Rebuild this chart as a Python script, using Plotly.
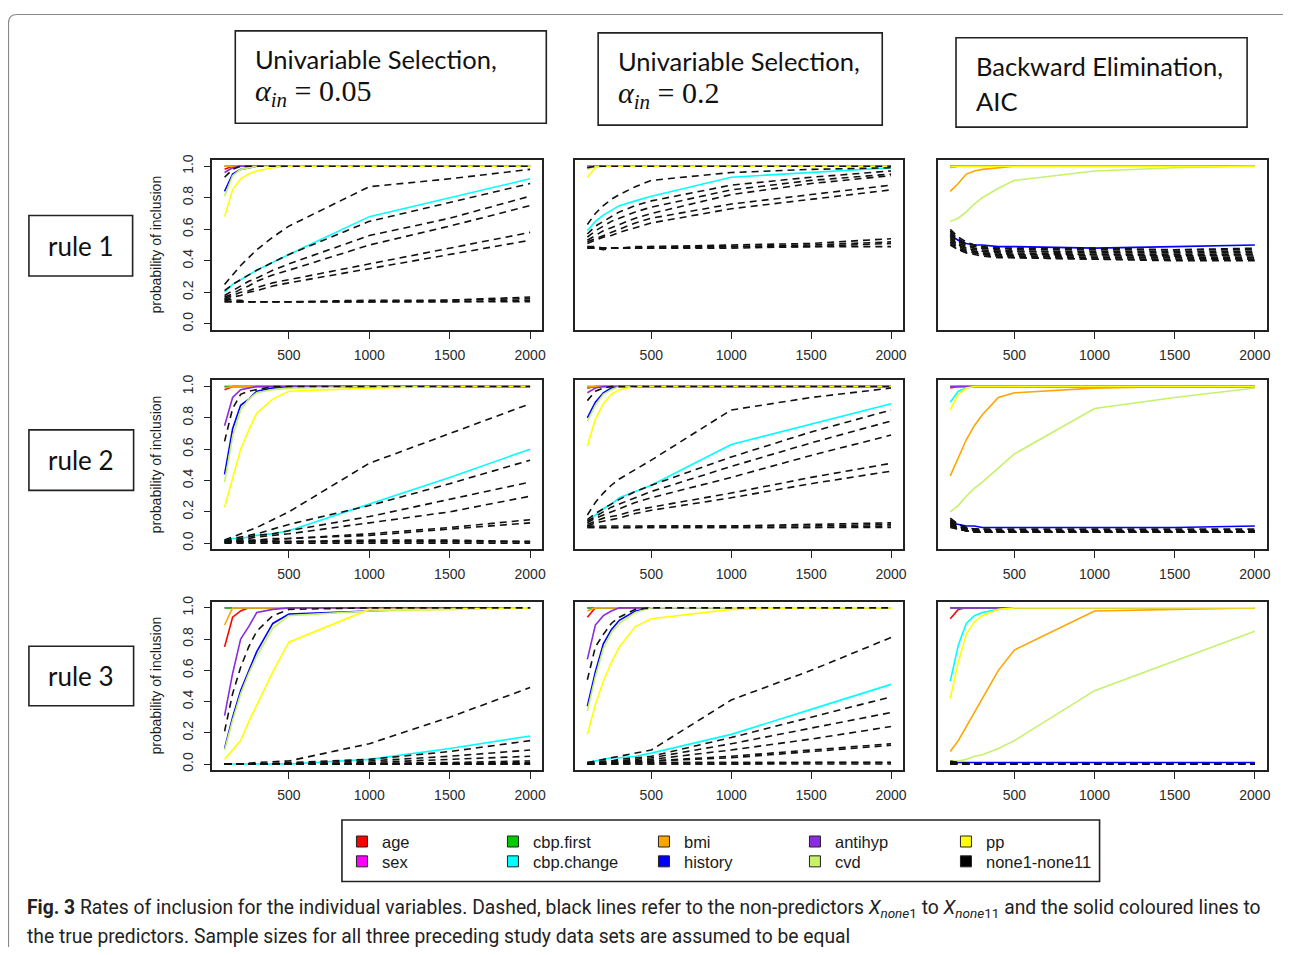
import plotly.graph_objects as go

# ---------------- data ----------------
SAMPLE_SIZES = [100, 150, 200, 250, 300, 400, 500, 1000, 1500, 2000]
X_TICKS = [500, 1000, 1500, 2000]
Y_TICKS = [0.0, 0.2, 0.4, 0.6, 0.8, 1.0]
Y_TICK_TEXT = ["0.0", "0.2", "0.4", "0.6", "0.8", "1.0"]

PREDICTORS = ["age", "sex", "cbp.first", "cbp.change", "bmi", "history", "antihyp", "cvd", "pp"]
PRED_COLORS = ["#FF0000", "#FF00FF", "#00CC00", "#00FFFF", "#FFA500", "#0000FF", "#8B2BE2", "#C5F26A", "#FFFF00"]
NONE_LABEL = "none1-none11"
NONE_COLOR = "#111111"

METHOD_LINE1 = ["Univariable Selection,", "Univariable Selection,", "Backward Elimination,"]
METHOD_LINE2 = ["<i>α</i><sub><i>in</i></sub> = 0.05", "<i>α</i><sub><i>in</i></sub> = 0.2", "AIC"]
RULES = ["rule 1", "rule 2", "rule 3"]
Y_TITLE = "probability of inclusion"

# predictor rows in PREDICTORS order; non-predictor rows none1..none11
R1_US05_PRED = [
    [0.98, 1, 1, 1, 1, 1, 1, 1, 1, 1],
    [1, 1, 1, 1, 1, 1, 1, 1, 1, 1],
    [1, 1, 1, 1, 1, 1, 1, 1, 1, 1],
    [0.20, 0.25, 0.28, 0.31, 0.34, 0.39, 0.44, 0.68, 0.80, 0.92],
    [1, 1, 1, 1, 1, 1, 1, 1, 1, 1],
    [0.84, 0.95, 0.98, 0.99, 1, 1, 1, 1, 1, 1],
    [0.96, 0.99, 1, 1, 1, 1, 1, 1, 1, 1],
    [0.81, 0.94, 0.98, 0.99, 1, 1, 1, 1, 1, 1],
    [0.68, 0.85, 0.92, 0.95, 0.97, 0.99, 1, 1, 1, 1],
]
R1_US05_NONE = [
    [0.93, 0.98, 1, 1, 1, 1, 1, 1, 1, 1],
    [0.25, 0.31, 0.37, 0.42, 0.47, 0.55, 0.62, 0.87, 0.92, 0.98],
    [0.21, 0.25, 0.28, 0.31, 0.34, 0.39, 0.44, 0.65, 0.77, 0.89],
    [0.18, 0.21, 0.24, 0.27, 0.29, 0.34, 0.38, 0.56, 0.67, 0.81],
    [0.17, 0.19, 0.22, 0.24, 0.27, 0.31, 0.34, 0.50, 0.62, 0.75],
    [0.16, 0.18, 0.20, 0.21, 0.23, 0.26, 0.28, 0.38, 0.48, 0.58],
    [0.15, 0.17, 0.18, 0.20, 0.21, 0.24, 0.26, 0.35, 0.44, 0.53],
    [0.15, 0.14, 0.14, 0.14, 0.14, 0.14, 0.14, 0.14, 0.15, 0.17],
    [0.14, 0.14, 0.14, 0.14, 0.14, 0.14, 0.14, 0.15, 0.15, 0.16],
    [0.16, 0.15, 0.15, 0.14, 0.14, 0.14, 0.14, 0.14, 0.14, 0.15],
    [0.14, 0.14, 0.14, 0.14, 0.14, 0.14, 0.14, 0.14, 0.14, 0.14],
]

R1_US20_PRED = [
    [1, 1, 1, 1, 1, 1, 1, 1, 1, 1],
    [1, 1, 1, 1, 1, 1, 1, 1, 1, 1],
    [1, 1, 1, 1, 1, 1, 1, 1, 1, 1],
    [0.59, 0.65, 0.69, 0.72, 0.75, 0.78, 0.81, 0.93, 0.96, 0.99],
    [1, 1, 1, 1, 1, 1, 1, 1, 1, 1],
    [0.99, 1, 1, 1, 1, 1, 1, 1, 1, 1],
    [0.99, 1, 1, 1, 1, 1, 1, 1, 1, 1],
    [0.98, 1, 1, 1, 1, 1, 1, 1, 1, 1],
    [0.93, 0.99, 1, 1, 1, 1, 1, 1, 1, 1],
]
R1_US20_NONE = [
    [0.99, 1, 1, 1, 1, 1, 1, 1, 1, 1],
    [0.63, 0.70, 0.75, 0.79, 0.82, 0.87, 0.91, 0.96, 0.98, 0.99],
    [0.57, 0.62, 0.65, 0.68, 0.71, 0.75, 0.78, 0.88, 0.93, 0.97],
    [0.55, 0.59, 0.62, 0.65, 0.67, 0.71, 0.74, 0.85, 0.91, 0.95],
    [0.53, 0.56, 0.59, 0.61, 0.63, 0.67, 0.70, 0.82, 0.89, 0.94],
    [0.52, 0.54, 0.56, 0.58, 0.60, 0.64, 0.67, 0.76, 0.82, 0.88],
    [0.51, 0.53, 0.55, 0.56, 0.58, 0.61, 0.64, 0.73, 0.79, 0.85],
    [0.49, 0.49, 0.48, 0.48, 0.48, 0.49, 0.49, 0.50, 0.51, 0.54],
    [0.48, 0.48, 0.48, 0.48, 0.48, 0.48, 0.49, 0.49, 0.50, 0.52],
    [0.49, 0.48, 0.47, 0.48, 0.48, 0.48, 0.48, 0.49, 0.49, 0.51],
    [0.48, 0.48, 0.48, 0.48, 0.48, 0.48, 0.48, 0.48, 0.49, 0.49],
]

R1_BE_PRED = [
    [1, 1, 1, 1, 1, 1, 1, 1, 1, 1],
    [1, 1, 1, 1, 1, 1, 1, 1, 1, 1],
    [1, 1, 1, 1, 1, 1, 1, 1, 1, 1],
    [0.99, 1, 1, 1, 1, 1, 1, 1, 1, 1],
    [0.84, 0.89, 0.95, 0.97, 0.98, 0.99, 1, 1, 1, 1],
    [0.56, 0.53, 0.51, 0.50, 0.50, 0.49, 0.49, 0.48, 0.49, 0.50],
    [1, 1, 1, 1, 1, 1, 1, 1, 1, 1],
    [0.65, 0.67, 0.71, 0.76, 0.80, 0.86, 0.91, 0.97, 0.99, 1.0],
    [1, 1, 1, 1, 1, 1, 1, 1, 1, 1],
]
R1_BE_NONE = [
    [0.60, 0.55, 0.52, 0.50, 0.49, 0.48, 0.48, 0.48, 0.47, 0.48],
    [0.59, 0.54, 0.51, 0.50, 0.48, 0.48, 0.47, 0.47, 0.47, 0.47],
    [0.58, 0.53, 0.50, 0.49, 0.48, 0.47, 0.46, 0.46, 0.46, 0.46],
    [0.57, 0.52, 0.50, 0.48, 0.47, 0.46, 0.46, 0.45, 0.45, 0.45],
    [0.56, 0.51, 0.49, 0.48, 0.46, 0.46, 0.45, 0.44, 0.44, 0.44],
    [0.55, 0.50, 0.48, 0.47, 0.46, 0.45, 0.44, 0.44, 0.43, 0.44],
    [0.54, 0.50, 0.48, 0.46, 0.45, 0.44, 0.44, 0.43, 0.43, 0.43],
    [0.53, 0.49, 0.47, 0.46, 0.45, 0.44, 0.43, 0.42, 0.42, 0.42],
    [0.52, 0.48, 0.46, 0.45, 0.44, 0.43, 0.43, 0.42, 0.42, 0.41],
    [0.51, 0.47, 0.46, 0.45, 0.44, 0.43, 0.42, 0.41, 0.41, 0.41],
    [0.50, 0.47, 0.45, 0.44, 0.43, 0.42, 0.42, 0.41, 0.40, 0.40],
]

R2_US05_PRED = [
    [0.98, 1, 1, 1, 1, 1, 1, 1, 1, 1],
    [1, 1, 1, 1, 1, 1, 1, 1, 1, 1],
    [1, 1, 1, 1, 1, 1, 1, 1, 1, 1],
    [0.02, 0.03, 0.03, 0.04, 0.05, 0.06, 0.08, 0.25, 0.42, 0.60],
    [0.99, 1, 1, 1, 1, 1, 1, 1, 1, 1],
    [0.44, 0.73, 0.88, 0.92, 0.97, 0.99, 1, 1, 1, 1],
    [0.75, 0.93, 0.98, 0.99, 1, 1, 1, 1, 1, 1],
    [0.39, 0.68, 0.85, 0.92, 0.96, 0.98, 0.99, 1, 1, 1],
    [0.23, 0.42, 0.60, 0.72, 0.83, 0.92, 0.97, 0.99, 1, 1],
]
R2_US05_NONE = [
    [0.65, 0.86, 0.95, 0.97, 0.98, 1, 1, 1, 1, 1],
    [0.02, 0.04, 0.06, 0.08, 0.10, 0.15, 0.20, 0.51, 0.70, 0.89],
    [0.02, 0.03, 0.04, 0.05, 0.06, 0.09, 0.12, 0.24, 0.38, 0.53],
    [0.01, 0.02, 0.03, 0.04, 0.05, 0.06, 0.08, 0.17, 0.28, 0.39],
    [0.01, 0.02, 0.02, 0.03, 0.04, 0.05, 0.06, 0.13, 0.20, 0.30],
    [0.01, 0.01, 0.01, 0.02, 0.02, 0.03, 0.03, 0.06, 0.10, 0.15],
    [0.01, 0.01, 0.01, 0.01, 0.02, 0.02, 0.03, 0.05, 0.09, 0.13],
    [0.01, 0.01, 0.01, 0.01, 0.01, 0.01, 0.01, 0.02, 0.02, 0.01],
    [0.01, 0.01, 0.01, 0.01, 0.01, 0.01, 0.01, 0.01, 0.01, 0.01],
    [0.00, 0.01, 0.01, 0.01, 0.01, 0.01, 0.01, 0.01, 0.01, 0.01],
    [0.00, 0.00, 0.00, 0.00, 0.00, 0.00, 0.00, 0.00, 0.00, 0.00],
]

R2_US20_PRED = [
    [0.99, 1, 1, 1, 1, 1, 1, 1, 1, 1],
    [1, 1, 1, 1, 1, 1, 1, 1, 1, 1],
    [0.99, 1, 1, 1, 1, 1, 1, 1, 1, 1],
    [0.14, 0.18, 0.22, 0.25, 0.29, 0.33, 0.37, 0.63, 0.76, 0.89],
    [1, 1, 1, 1, 1, 1, 1, 1, 1, 1],
    [0.80, 0.90, 0.96, 0.99, 1, 1, 1, 1, 1, 1],
    [0.96, 0.99, 1, 1, 1, 1, 1, 1, 1, 1],
    [0.78, 0.88, 0.95, 0.98, 1, 1, 1, 1, 1, 1],
    [0.62, 0.79, 0.89, 0.95, 0.98, 1, 1, 1, 1, 1],
]
R2_US20_NONE = [
    [0.91, 0.97, 0.99, 1, 1, 1, 1, 1, 1, 1],
    [0.18, 0.26, 0.32, 0.37, 0.41, 0.47, 0.53, 0.85, 0.93, 0.99],
    [0.15, 0.19, 0.22, 0.25, 0.28, 0.33, 0.37, 0.55, 0.71, 0.85],
    [0.14, 0.17, 0.20, 0.23, 0.25, 0.29, 0.33, 0.49, 0.64, 0.78],
    [0.13, 0.16, 0.18, 0.20, 0.22, 0.26, 0.29, 0.42, 0.56, 0.69],
    [0.12, 0.14, 0.16, 0.17, 0.18, 0.21, 0.23, 0.32, 0.42, 0.51],
    [0.11, 0.13, 0.14, 0.15, 0.16, 0.19, 0.21, 0.29, 0.38, 0.46],
    [0.11, 0.11, 0.11, 0.11, 0.11, 0.11, 0.11, 0.11, 0.12, 0.13],
    [0.10, 0.10, 0.10, 0.10, 0.10, 0.10, 0.11, 0.11, 0.11, 0.12],
    [0.11, 0.10, 0.10, 0.10, 0.10, 0.10, 0.10, 0.10, 0.10, 0.11],
    [0.10, 0.10, 0.10, 0.10, 0.10, 0.10, 0.10, 0.10, 0.10, 0.10],
]

R2_BE_PRED = [
    [0.99, 1, 1, 1, 1, 1, 1, 1, 1, 1],
    [1, 1, 1, 1, 1, 1, 1, 1, 1, 1],
    [1, 1, 1, 1, 1, 1, 1, 1, 1, 1],
    [0.90, 0.97, 0.99, 1, 1, 1, 1, 1, 1, 1],
    [0.43, 0.54, 0.66, 0.75, 0.82, 0.93, 0.96, 0.99, 1, 1],
    [0.13, 0.12, 0.11, 0.11, 0.10, 0.10, 0.10, 0.10, 0.10, 0.11],
    [1, 1, 1, 1, 1, 1, 1, 1, 1, 1],
    [0.20, 0.24, 0.30, 0.35, 0.39, 0.48, 0.57, 0.86, 0.93, 0.99],
    [0.85, 0.95, 0.99, 1, 1, 1, 1, 1, 1, 1],
]
R2_BE_NONE = [
    [0.16, 0.12, 0.10, 0.09, 0.09, 0.09, 0.09, 0.09, 0.09, 0.09],
    [0.15, 0.12, 0.10, 0.09, 0.09, 0.08, 0.08, 0.08, 0.08, 0.08],
    [0.14, 0.11, 0.09, 0.09, 0.08, 0.08, 0.08, 0.08, 0.08, 0.08],
    [0.14, 0.11, 0.09, 0.08, 0.08, 0.08, 0.08, 0.08, 0.08, 0.07],
    [0.13, 0.10, 0.09, 0.08, 0.08, 0.08, 0.07, 0.08, 0.07, 0.07],
    [0.13, 0.10, 0.09, 0.08, 0.08, 0.07, 0.07, 0.07, 0.07, 0.07],
    [0.12, 0.10, 0.08, 0.08, 0.07, 0.07, 0.07, 0.07, 0.07, 0.07],
    [0.12, 0.09, 0.08, 0.08, 0.07, 0.07, 0.07, 0.07, 0.07, 0.07],
    [0.11, 0.09, 0.08, 0.07, 0.07, 0.07, 0.07, 0.07, 0.07, 0.07],
    [0.11, 0.09, 0.08, 0.07, 0.07, 0.07, 0.07, 0.07, 0.07, 0.07],
    [0.10, 0.09, 0.08, 0.07, 0.07, 0.07, 0.07, 0.07, 0.07, 0.07],
]

R3_US05_PRED = [
    [0.75, 0.94, 0.98, 1, 1, 1, 1, 1, 1, 1],
    [1, 1, 1, 1, 1, 1, 1, 1, 1, 1],
    [1, 1, 1, 1, 1, 1, 1, 1, 1, 1],
    [0.00, 0.00, 0.00, 0.00, 0.00, 0.00, 0.00, 0.03, 0.10, 0.18],
    [0.89, 1, 1, 1, 1, 1, 1, 1, 1, 1],
    [0.10, 0.30, 0.47, 0.60, 0.72, 0.90, 0.96, 0.98, 1, 1],
    [0.31, 0.58, 0.80, 0.88, 0.97, 0.99, 1, 1, 1, 1],
    [0.09, 0.28, 0.45, 0.58, 0.69, 0.87, 0.95, 0.98, 0.99, 1],
    [0.03, 0.09, 0.15, 0.27, 0.38, 0.59, 0.78, 0.99, 0.99, 1],
]
R3_US05_NONE = [
    [0.21, 0.45, 0.62, 0.75, 0.85, 0.95, 0.99, 1, 1, 1],
    [0.00, 0.00, 0.00, 0.005, 0.01, 0.015, 0.02, 0.13, 0.30, 0.49],
    [0.00, 0.00, 0.00, 0.00, 0.00, 0.005, 0.01, 0.03, 0.08, 0.15],
    [0.00, 0.00, 0.00, 0.00, 0.00, 0.00, 0.005, 0.02, 0.05, 0.09],
    [0.00, 0.00, 0.00, 0.00, 0.00, 0.00, 0.00, 0.01, 0.03, 0.05],
    [0.00, 0.00, 0.00, 0.00, 0.00, 0.00, 0.00, 0.005, 0.01, 0.02],
    [0.00, 0.00, 0.00, 0.00, 0.00, 0.00, 0.00, 0.00, 0.005, 0.01],
    [0.00, 0.00, 0.00, 0.00, 0.00, 0.00, 0.00, 0.00, 0.00, 0.005],
    [0.00, 0.00, 0.00, 0.00, 0.00, 0.00, 0.00, 0.00, 0.00, 0.00],
    [0.00, 0.00, 0.00, 0.00, 0.00, 0.00, 0.00, 0.00, 0.00, 0.00],
    [0.00, 0.00, 0.00, 0.00, 0.00, 0.00, 0.00, 0.00, 0.00, 0.00],
]

R3_US20_PRED = [
    [0.94, 1, 1, 1, 1, 1, 1, 1, 1, 1],
    [1, 1, 1, 1, 1, 1, 1, 1, 1, 1],
    [1, 1, 1, 1, 1, 1, 1, 1, 1, 1],
    [0.01, 0.02, 0.03, 0.04, 0.04, 0.05, 0.07, 0.19, 0.35, 0.51],
    [0.98, 1, 1, 1, 1, 1, 1, 1, 1, 1],
    [0.37, 0.59, 0.77, 0.86, 0.92, 0.98, 1, 1, 1, 1],
    [0.67, 0.89, 0.95, 0.98, 1, 1, 1, 1, 1, 1],
    [0.34, 0.56, 0.74, 0.84, 0.90, 0.97, 1, 1, 1, 1],
    [0.19, 0.38, 0.53, 0.65, 0.75, 0.88, 0.93, 0.99, 1, 1],
]
R3_US20_NONE = [
    [0.54, 0.75, 0.83, 0.90, 0.94, 0.99, 1, 1, 1, 1],
    [0.01, 0.02, 0.03, 0.04, 0.05, 0.07, 0.09, 0.41, 0.60, 0.81],
    [0.01, 0.01, 0.02, 0.02, 0.03, 0.04, 0.05, 0.17, 0.30, 0.43],
    [0.01, 0.01, 0.01, 0.02, 0.02, 0.03, 0.04, 0.13, 0.23, 0.33],
    [0.00, 0.01, 0.01, 0.01, 0.02, 0.02, 0.03, 0.09, 0.16, 0.24],
    [0.00, 0.01, 0.01, 0.01, 0.01, 0.02, 0.02, 0.05, 0.09, 0.13],
    [0.00, 0.00, 0.01, 0.01, 0.01, 0.01, 0.02, 0.04, 0.08, 0.12],
    [0.00, 0.00, 0.00, 0.00, 0.01, 0.01, 0.01, 0.01, 0.01, 0.01],
    [0.00, 0.00, 0.00, 0.00, 0.00, 0.01, 0.01, 0.01, 0.01, 0.01],
    [0.00, 0.00, 0.00, 0.00, 0.00, 0.00, 0.00, 0.00, 0.01, 0.01],
    [0.00, 0.00, 0.00, 0.00, 0.00, 0.00, 0.00, 0.00, 0.00, 0.00],
]

R3_BE_PRED = [
    [0.93, 0.99, 1, 1, 1, 1, 1, 1, 1, 1],
    [1, 1, 1, 1, 1, 1, 1, 1, 1, 1],
    [1, 1, 1, 1, 1, 1, 1, 1, 1, 1],
    [0.53, 0.76, 0.90, 0.95, 0.97, 0.99, 1, 1, 1, 1],
    [0.08, 0.15, 0.24, 0.33, 0.42, 0.60, 0.73, 0.98, 0.99, 1],
    [0.01, 0.01, 0.01, 0.01, 0.01, 0.01, 0.01, 0.01, 0.01, 0.01],
    [1, 1, 1, 1, 1, 1, 1, 1, 1, 1],
    [0.02, 0.02, 0.03, 0.05, 0.06, 0.10, 0.15, 0.47, 0.66, 0.85],
    [0.42, 0.65, 0.83, 0.91, 0.95, 0.99, 1, 1, 1, 1],
]
R3_BE_NONE = [
    [0.02, 0.01, 0.005, 0.00, 0.00, 0.00, 0.00, 0.00, 0.00, 0.00],
    [0.015, 0.01, 0.00, 0.00, 0.00, 0.00, 0.00, 0.00, 0.00, 0.00],
    [0.01, 0.005, 0.00, 0.00, 0.00, 0.00, 0.00, 0.00, 0.00, 0.00],
    [0.01, 0.00, 0.00, 0.00, 0.00, 0.00, 0.00, 0.00, 0.00, 0.00],
    [0.005, 0.00, 0.00, 0.00, 0.00, 0.00, 0.00, 0.00, 0.00, 0.00],
    [0.00, 0.00, 0.00, 0.00, 0.00, 0.00, 0.00, 0.00, 0.00, 0.00],
    [0.00, 0.00, 0.00, 0.00, 0.00, 0.00, 0.00, 0.00, 0.00, 0.00],
    [0.00, 0.00, 0.00, 0.00, 0.00, 0.00, 0.00, 0.00, 0.00, 0.00],
    [0.00, 0.00, 0.00, 0.00, 0.00, 0.00, 0.00, 0.00, 0.00, 0.00],
    [0.00, 0.00, 0.00, 0.00, 0.00, 0.00, 0.00, 0.00, 0.00, 0.00],
    [0.00, 0.00, 0.00, 0.00, 0.00, 0.00, 0.00, 0.00, 0.00, 0.00],
]

PANELS = [
    [(R1_US05_PRED, R1_US05_NONE), (R1_US20_PRED, R1_US20_NONE), (R1_BE_PRED, R1_BE_NONE)],
    [(R2_US05_PRED, R2_US05_NONE), (R2_US20_PRED, R2_US20_NONE), (R2_BE_PRED, R2_BE_NONE)],
    [(R3_US05_PRED, R3_US05_NONE), (R3_US20_PRED, R3_US20_NONE), (R3_BE_PRED, R3_BE_NONE)],
]

LEGEND_ROW1 = ["age", "cbp.first", "bmi", "antihyp", "pp"]
LEGEND_ROW2 = ["sex", "cbp.change", "history", "cvd", NONE_LABEL]

CAPTION_1 = ("<b>Fig. 3</b> Rates of inclusion for the individual variables. Dashed, black lines refer to the "
             "non-predictors <i>X</i><sub><i>none</i>1</sub> to <i>X</i><sub><i>none</i>11</sub> and the solid coloured lines to")
CAPTION_2 = "the true predictors. Sample sizes for all three preceding study data sets are assumed to be equal"

# ---------------- layout geometry (window pixels) ----------------
PAGE_OFF = 8                     # default page margin around the figure
W, H = 1291 - 2 * PAGE_OFF, 955 - 2 * PAGE_OFF
def px(x):
    return (x - PAGE_OFF) / W
def py(y):
    return 1 - (y - PAGE_OFF) / H

COL_PX = [(213, 544), (577, 906), (941, 1271)]
ROW_PX = [(155, 326.5), (377, 547.5), (600, 770)]
X_RANGE = [24, 2076]
Y_RANGE = [-0.04, 1.04]

AXFONT = dict(family="Liberation Sans, Arial, sans-serif", size=14, color="#2a2a2a")
BOXFONT = "Lato, Open Sans, sans-serif"

fig = go.Figure()
layout = dict(
    width=W, height=H, autosize=False,
    margin=dict(l=0, r=0, t=0, b=0),
    paper_bgcolor="white", plot_bgcolor="white",
    showlegend=True,
)

shapes = []
annotations = []

k = 0
for r in range(3):
    for c in range(3):
        k += 1
        xid = "x" if k == 1 else f"x{k}"
        yid = "y" if k == 1 else f"y{k}"
        xname = "xaxis" if k == 1 else f"xaxis{k}"
        yname = "yaxis" if k == 1 else f"yaxis{k}"
        x0, x1 = COL_PX[c]
        ytop, ybot = ROW_PX[r]
        layout[xname] = dict(
            domain=[px(x0), px(x1)], range=X_RANGE, anchor=yid,
            tickmode="array", tickvals=X_TICKS, ticktext=[str(v) for v in X_TICKS],
            ticks="outside", ticklen=7, tickwidth=1.3, tickcolor="#222",
            ticklabelstandoff=4,
            showline=True, mirror=True, linecolor="#222", linewidth=1.6,
            showgrid=False, zeroline=False, tickfont=AXFONT, fixedrange=True,
        )
        ycfg = dict(
            domain=[py(ybot), py(ytop)], range=Y_RANGE, anchor=xid,
            showline=True, mirror=True, linecolor="#222", linewidth=1.6,
            showgrid=False, zeroline=False, fixedrange=True,
        )
        if c == 0:
            ycfg.update(tickmode="array", tickvals=Y_TICKS, ticktext=Y_TICK_TEXT,
                        ticks="outside", ticklen=7, tickwidth=1.3, tickcolor="#222",
                        tickangle=-90, tickfont=AXFONT, ticklabelstandoff=5)
        else:
            ycfg.update(showticklabels=False, ticks="")
        layout[yname] = ycfg

        pred, none = PANELS[r][c]
        for name, color, vals in zip(PREDICTORS, PRED_COLORS, pred):
            fig.add_trace(go.Scatter(
                x=SAMPLE_SIZES, y=vals, mode="lines", xaxis=xid, yaxis=yid,
                line=dict(color=color, width=1.6), showlegend=False, name=name,
                hoverinfo="skip"))
        for i, vals in enumerate(none):
            fig.add_trace(go.Scatter(
                x=SAMPLE_SIZES, y=vals, mode="lines", xaxis=xid, yaxis=yid,
                line=dict(color=NONE_COLOR, width=1.6, dash="7px,5px"),
                showlegend=False, name=f"none{i+1}", hoverinfo="skip"))

        if c == 0:
            annotations.append(dict(
                x=px(156), y=py((ytop + ybot) / 2), xref="paper", yref="paper",
                text=Y_TITLE, textangle=-90, showarrow=False,
                xanchor="center", yanchor="middle",
                font=dict(family="Liberation Sans, Arial, sans-serif", size=14, color="#1a1a1a")))

# legend traces
color_of = dict(zip(PREDICTORS, PRED_COLORS))
color_of[NONE_LABEL] = "#000000"
for legend_id, names in (("legend", LEGEND_ROW1), ("legend2", LEGEND_ROW2)):
    for name in names:
        fig.add_trace(go.Scatter(
            x=[None], y=[None], mode="markers", name=name, legend=legend_id,
            marker=dict(symbol="square", size=11, color=color_of[name],
                        line=dict(color="#222", width=1)),
            showlegend=True))

legend_common = dict(
    orientation="h", xanchor="left", yanchor="middle",
    bgcolor="rgba(0,0,0,0)", borderwidth=0,
    font=dict(family="Liberation Sans, Arial, sans-serif", size=16.5, color="#1a1a1a"),
    entrywidth=106, entrywidthmode="pixels", itemclick=False, itemdoubleclick=False,
)
layout["legend"] = dict(legend_common, x=px(343), y=py(842))
layout["legend2"] = dict(legend_common, x=px(343), y=py(862))

# legend frame
shapes.append(dict(type="rect", xref="paper", yref="paper",
                   x0=px(343), x1=px(1103), y0=py(882), y1=py(820),
                   line=dict(color="#222", width=1.6)))

# method header boxes
HEADER_BOX = [(236, 25, 548, 118), (600, 27, 885, 120), (959, 32, 1251, 122)]
for i, (bx0, by0, bx1, by1) in enumerate(HEADER_BOX):
    shapes.append(dict(type="rect", xref="paper", yref="paper",
                       x0=px(bx0), x1=px(bx1), y0=py(by1), y1=py(by0),
                       line=dict(color="#222", width=1.6)))
    annotations.append(dict(x=px(bx0 + 18), y=py(by0 + 28), xref="paper", yref="paper",
                            text=METHOD_LINE1[i], showarrow=False, xanchor="left", yanchor="middle",
                            font=dict(family=BOXFONT, size=25.5, color="#111")))
    if i < 2:
        annotations.append(dict(x=px(bx0 + 18), y=py(by0 + 63), xref="paper", yref="paper",
                                text=METHOD_LINE2[i], showarrow=False, xanchor="left", yanchor="middle",
                                font=dict(family="Liberation Serif, DejaVu Serif, serif", size=30, color="#111")))
    else:
        annotations.append(dict(x=px(bx0 + 18), y=py(by0 + 64), xref="paper", yref="paper",
                                text=METHOD_LINE2[i], showarrow=False, xanchor="left", yanchor="middle",
                                font=dict(family=BOXFONT, size=25.5, color="#111")))

# rule boxes
RULE_BOX = [(29, 211, 133, 272), (29, 427, 134, 488), (29, 645, 134, 705)]
for i, (bx0, by0, bx1, by1) in enumerate(RULE_BOX):
    shapes.append(dict(type="rect", xref="paper", yref="paper",
                       x0=px(bx0), x1=px(bx1), y0=py(by1), y1=py(by0),
                       line=dict(color="#222", width=1.6)))
    annotations.append(dict(x=px((bx0 + bx1) / 2), y=py((by0 + by1) / 2), xref="paper", yref="paper",
                            text=RULES[i], showarrow=False, xanchor="center", yanchor="middle",
                            font=dict(family=BOXFONT, size=26, color="#111")))

# outer rounded frame (left and top edges)
path = (f"M {px(8.5)},{py(955)} L {px(8.5)},{py(17)} "
        f"Q {px(8.5)},{py(8.5)} {px(17)},{py(8.5)} L {px(1291)},{py(8.5)}")
shapes.append(dict(type="path", xref="paper", yref="paper", path=path,
                   line=dict(color="#8a8a8a", width=1.2)))

# caption
for txt, yc in ((CAPTION_1, 909), (CAPTION_2, 937)):
    annotations.append(dict(x=px(25), y=py(yc), xref="paper", yref="paper", text=txt,
                            showarrow=False, xanchor="left", yanchor="middle",
                            font=dict(family="Roboto, sans-serif", size=19.3, color="#222")))

layout["shapes"] = shapes
layout["annotations"] = annotations
fig.update_layout(**layout)
fig.write_html("out.html")
